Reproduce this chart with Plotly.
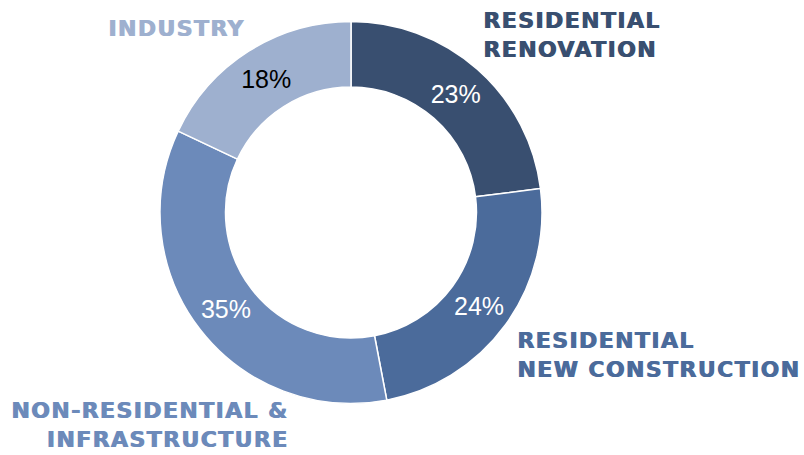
import plotly.graph_objects as go

# Share of demand by segment (%)
segments = ["RESIDENTIAL<br>RENOVATION", "RESIDENTIAL<br>NEW CONSTRUCTION",
            "NON-RESIDENTIAL &<br>INFRASTRUCTURE", "INDUSTRY"]
shares = [23, 24, 35, 18]
colors = ["#394f70", "#4b6b9b", "#6c8aba", "#9eb0cf"]
pct_colors = ["white", "white", "white", "black"]

W, H = 804, 455
cx, cy, r_out = 351, 212.5, 191  # donut centre / radius in px

fig = go.Figure(go.Pie(
    labels=segments,
    values=shares,
    sort=False,
    direction="clockwise",
    rotation=0,
    hole=0.657,
    marker=dict(colors=colors, line=dict(color="white", width=1.5)),
    texttemplate="%{value}%",
    textposition="inside",
    insidetextorientation="horizontal",
    insidetextfont=dict(family="Liberation Sans, Arial", size=25, color=pct_colors),
    hoverinfo="label+value",
    showlegend=False,
    domain=dict(x=[(cx - r_out) / W, (cx + r_out) / W],
                y=[(H - cy - r_out) / H, (H - cy + r_out) / H]),
))

label_font = "DejaVu Sans, Arial"
# (text, x px, y px centre, anchor, colour)
label_specs = [
    (segments[0], 482, 35, "left", colors[0]),
    (segments[1], 516, 355, "left", colors[1]),
    (segments[2], 289, 425, "right", colors[2]),
    (segments[3], 107, 28.5, "left", colors[3]),
]
for text, x, y, anchor, col in label_specs:
    styled = "<br>".join(
        f'<span style="letter-spacing:1.4px">{part}</span>' for part in text.split("<br>"))
    fig.add_annotation(
        text=f"<b>{styled}</b>", xref="paper", yref="paper",
        x=x / W, y=1 - y / H, xanchor=anchor, yanchor="middle",
        align=anchor, showarrow=False, borderpad=0,
        font=dict(family=label_font, size=22, color=col,
                  shadow=f"0.9px 0 0 {col}"),
    )

fig.update_layout(
    width=W, height=H,
    margin=dict(l=0, r=0, t=0, b=0),
    paper_bgcolor="white", plot_bgcolor="white",
)
fig.write_html("out.html")
